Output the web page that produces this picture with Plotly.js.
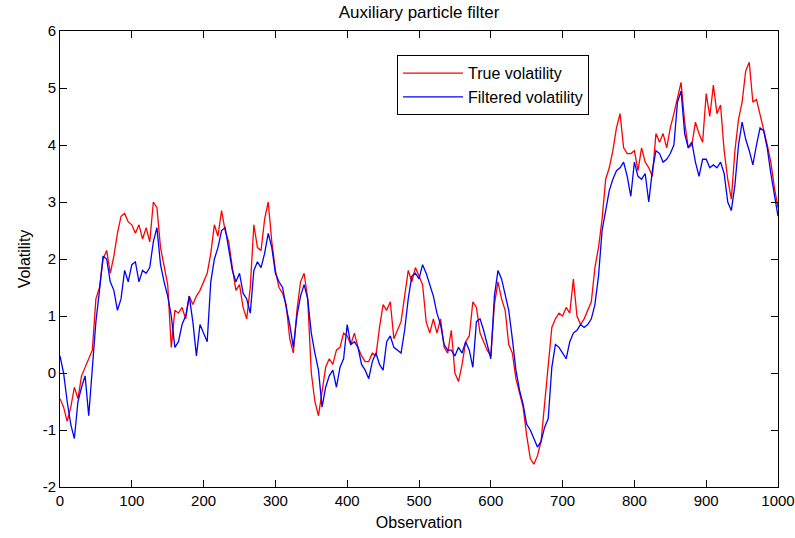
<!DOCTYPE html>
<html>
<head>
<meta charset="utf-8">
<script src="https://cdn.plot.ly/plotly-3.0.1.min.js"></script>
<style>
  html, body { margin: 0; padding: 0; background: #ffffff; }
  #chart { width: 795px; height: 538px; }
</style>
</head>
<body>
<div id="chart"></div>
<script>
// Observation index (sampled every 5 observations)
const observations = [];
for (let i = 0; i <= 1000; i += 5) observations.push(i);

// True volatility
const trueVolatility = [
  -0.45, -0.6, -0.85, -0.6, -0.25, -0.45, -0.05, 0.1, 0.25, 0.4,
  1.3, 1.5, 2.0, 2.15, 1.75, 2.05, 2.45, 2.75, 2.8, 2.65,
  2.6, 2.45, 2.6, 2.35, 2.55, 2.3, 3.0, 2.9, 2.2, 1.9,
  1.55, 0.45, 1.1, 1.05, 1.15, 0.95, 1.35, 1.2, 1.35, 1.45,
  1.6, 1.75, 2.1, 2.6, 2.4, 2.85, 2.5, 2.3, 1.85, 1.45,
  1.55, 1.15, 0.95, 1.5, 2.6, 2.2, 2.15, 2.7, 3.0, 2.3,
  1.8, 1.5, 1.4, 1.2, 0.6, 0.35, 1.1, 1.6, 1.75, 1.3,
  0.0, -0.5, -0.75, -0.3, 0.1, 0.25, 0.15, 0.4, 0.45, 0.7,
  0.65, 0.5, 0.7, 0.45, 0.3, 0.2, 0.2, 0.35, 0.3, 0.8,
  1.2, 1.1, 1.25, 0.6, 0.75, 0.9, 1.35, 1.8, 1.6, 1.85,
  1.7, 1.55, 0.9, 0.7, 0.95, 0.7, 0.95, 0.45, 0.35, 0.75,
  0.0, -0.15, 0.15, 0.55, 0.65, 1.25, 1.15, 0.7, 0.55, 0.4,
  0.3, 1.2, 1.6, 1.3, 1.1, 0.5, 0.35, -0.1, -0.35, -0.6,
  -1.1, -1.5, -1.6, -1.45, -1.2, -0.5, 0.1, 0.8, 0.95, 1.05,
  1.0, 1.15, 1.05, 1.65, 1.0, 0.85, 0.95, 1.1, 1.25, 1.85,
  2.2, 2.7, 3.4, 3.6, 3.9, 4.3, 4.55, 3.95, 3.85, 3.85,
  3.9, 3.55, 3.95, 3.7, 3.6, 3.45, 4.2, 4.05, 4.2, 3.95,
  4.3, 4.55, 4.85, 5.1, 4.4, 3.95, 4.0, 4.4, 4.2, 4.05,
  4.9, 4.5, 5.05, 4.55, 4.7, 3.9, 3.4, 3.05, 3.9, 4.45,
  4.75, 5.3, 5.45, 4.75, 4.8, 4.55, 4.3, 4.0, 3.7, 3.25,
  2.9
];

// Filtered volatility
const filteredVolatility = [
  0.3, 0.0, -0.5, -0.9, -1.15, -0.5, -0.25, -0.05, -0.75, 0.0,
  0.9, 1.45, 2.05, 2.0, 1.6, 1.45, 1.1, 1.3, 1.8, 1.6,
  1.9, 1.95, 1.6, 1.8, 1.75, 1.85, 2.3, 2.55, 1.9, 1.6,
  1.35, 1.0, 0.45, 0.55, 0.85, 1.0, 1.35, 0.9, 0.3, 0.85,
  0.7, 0.55, 1.6, 2.0, 2.2, 2.5, 2.55, 2.2, 1.8, 1.6,
  1.75, 1.4, 1.3, 1.05, 1.8, 1.95, 1.85, 2.1, 2.45, 2.2,
  1.75, 1.6, 1.5, 1.15, 0.85, 0.45, 1.0, 1.35, 1.55, 1.3,
  0.7, 0.35, 0.05, -0.6, -0.25, -0.05, 0.05, -0.25, 0.1, 0.25,
  0.85, 0.5, 0.55, 0.45, 0.15, 0.05, -0.1, 0.2, 0.35, 0.15,
  0.05, 0.55, 0.65, 0.45, 0.4, 0.35, 0.75, 1.3, 1.7, 1.75,
  1.65, 1.9, 1.75, 1.55, 1.35, 1.05, 0.85, 0.5, 0.4, 0.4,
  0.3, 0.45, 0.35, 0.55, 0.4, 0.1, 0.9, 0.95, 0.75, 0.5,
  0.25, 1.35, 1.8, 1.65, 1.4, 1.1, 0.6, 0.05, -0.3, -0.55,
  -0.9, -1.0, -1.15, -1.3, -1.2, -0.95, -0.8, 0.1, 0.5, 0.45,
  0.35, 0.25, 0.55, 0.7, 0.75, 0.85, 0.8, 0.85, 0.95, 1.2,
  1.7, 2.5, 2.85, 3.2, 3.4, 3.55, 3.6, 3.7, 3.45, 3.1,
  3.7, 3.45, 3.4, 3.5, 3.0, 3.55, 3.9, 3.85, 3.7, 3.75,
  3.85, 4.0, 4.75, 4.95, 4.2, 3.95, 4.05, 3.7, 3.45, 3.75,
  3.75, 3.6, 3.65, 3.6, 3.7, 3.5, 3.0, 2.85, 3.3, 4.0,
  4.4, 4.1, 3.9, 3.65, 4.0, 4.3, 4.25, 3.95, 3.5, 3.1,
  2.75
];

const xTicks = [0, 100, 200, 300, 400, 500, 600, 700, 800, 900, 1000];
const yTicks = [-2, -1, 0, 1, 2, 3, 4, 5, 6];

const sans = '"Liberation Sans", Arial, Helvetica, sans-serif';

const traces = [
  {
    x: observations, y: trueVolatility, type: 'scatter', mode: 'lines',
    name: 'True volatility', line: { color: '#ff0000', width: 1.3 }
  },
  {
    x: observations, y: filteredVolatility, type: 'scatter', mode: 'lines',
    name: 'Filtered volatility', line: { color: '#0000ff', width: 1.3 }
  }
];

const axisCommon = {
  showline: true, linecolor: '#000000', linewidth: 1, mirror: 'ticks',
  ticks: 'inside', ticklen: 7, tickcolor: '#000000', tickwidth: 1,
  showgrid: false, zeroline: false, ticklabeloverflow: 'allow',
  tickfont: { family: sans, size: 15, color: '#000000' }
};

const layout = {
  width: 795, height: 538,
  paper_bgcolor: '#ffffff', plot_bgcolor: '#ffffff',
  margin: { l: 60, r: 17, t: 31, b: 51 },
  title: {
    text: 'Auxiliary particle filter',
    font: { family: sans, size: 17, color: '#000000' },
    x: 0.5, xref: 'paper', y: 0.978, yref: 'container', yanchor: 'middle'
  },
  xaxis: Object.assign({}, axisCommon, {
    range: [0, 1000], tickvals: xTicks, ticktext: xTicks.map(String),
    title: { text: 'Observation', font: { family: sans, size: 16, color: '#000000' }, standoff: 8 }
  }),
  yaxis: Object.assign({}, axisCommon, {
    range: [-2, 6], tickvals: yTicks, ticktext: yTicks.map(String),
    title: { text: 'Volatility', font: { family: sans, size: 16, color: '#000000' }, standoff: 8 }
  }),
  showlegend: true,
  legend: {
    x: 0.4694, y: 0.947, xanchor: 'left', yanchor: 'top',
    bgcolor: '#ffffff', bordercolor: '#000000', borderwidth: 1,
    font: { family: sans, size: 16, color: '#000000' },
    itemwidth: 60, tracegroupgap: 0
  }
};

Plotly.newPlot('chart', traces, layout, { displayModeBar: false, staticPlot: true });
</script>
</body>
</html>
